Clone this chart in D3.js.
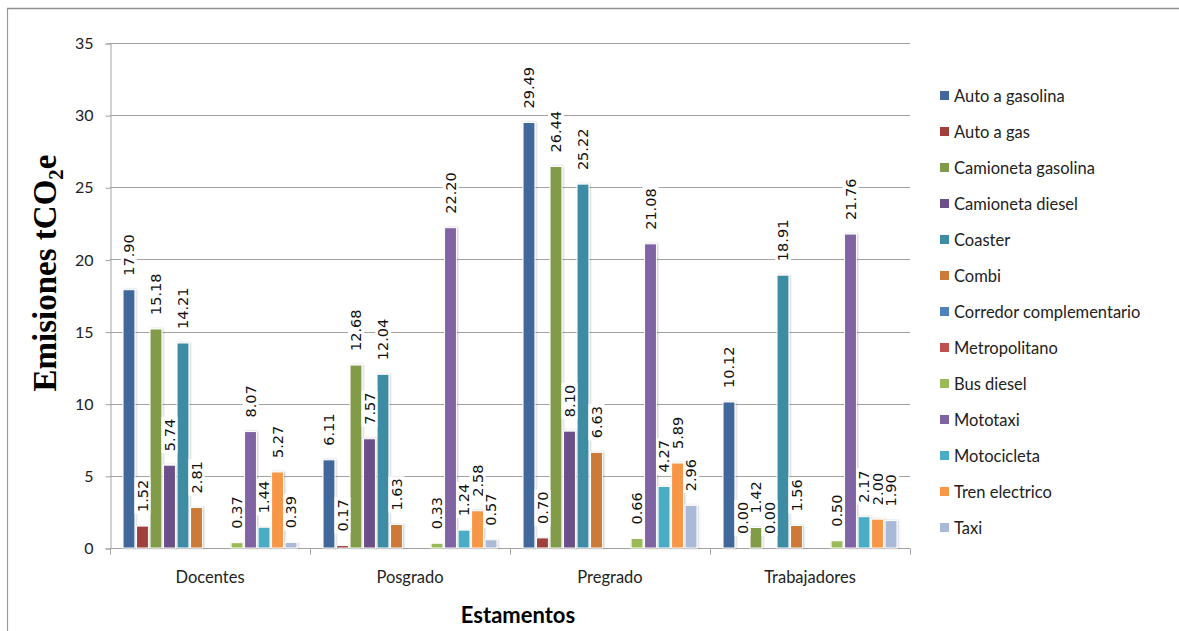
<!DOCTYPE html>
<html>
<head>
<meta charset="utf-8">
<script src="https://cdn.jsdelivr.net/npm/d3@7"></script>
<style>
  body { margin: 0; background: #fff; }
</style>
</head>
<body>
<svg id="chart" width="1179" height="631" font-family="Lato, 'Open Sans', sans-serif"></svg>
<script>
// Emissions by group (estamento) and transport mode, in tCO2e
const categories = ["Docentes", "Posgrado", "Pregrado", "Trabajadores"];

const seriesNames = [
  "Auto a gasolina", "Auto a gas", "Camioneta gasolina", "Camioneta diesel",
  "Coaster", "Combi", "Corredor complementario", "Metropolitano",
  "Bus diesel", "Mototaxi", "Motocicleta", "Tren electrico", "Taxi"
];

const seriesColors = [
  "#41689B", "#A03F3C", "#819B4A", "#6A4F88",
  "#3E8CA3", "#CC7A37", "#4F81BD", "#C0504D",
  "#9BBB59", "#8064A2", "#4BACC6", "#F79646", "#A9BAD9"
];

// one value per category; null = no data
const autoGasolina       = [17.90, 6.11, 29.49, 10.12];
const autoGas            = [1.52, 0.17, 0.70, 0.00];
const camionetaGasolina  = [15.18, 12.68, 26.44, 1.42];
const camionetaDiesel    = [5.74, 7.57, 8.10, 0.00];
const coaster            = [14.21, 12.04, 25.22, 18.91];
const combi              = [2.81, 1.63, 6.63, 1.56];
const corredor           = [null, null, null, null];
const metropolitano      = [null, null, null, null];
const busDiesel          = [0.37, 0.33, 0.66, 0.50];
const mototaxi           = [8.07, 22.20, 21.08, 21.76];
const motocicleta        = [1.44, 1.24, 4.27, 2.17];
const trenElectrico      = [5.27, 2.58, 5.89, 2.00];
const taxi               = [0.39, 0.57, 2.96, 1.90];

const seriesValues = [
  autoGasolina, autoGas, camionetaGasolina, camionetaDiesel, coaster, combi,
  corredor, metropolitano, busDiesel, mototaxi, motocicleta, trenElectrico, taxi
];

const yTicks = [0, 5, 10, 15, 20, 25, 30, 35];

const svg = d3.select("#chart");

// outer chart frame
svg.append("line").attr("x1", 7.5).attr("x2", 7.5).attr("y1", 8).attr("y2", 631)
  .attr("stroke", "#9a9a9a").attr("stroke-width", 1.2);
svg.append("line").attr("x1", 7).attr("x2", 1179).attr("y1", 8.5).attr("y2", 8.5)
  .attr("stroke", "#8f8f8f").attr("stroke-width", 1.5);

const plot = { left: 110, right: 910, top: 43, bottom: 548 };

const x0 = d3.scaleBand().domain(categories).range([plot.left, plot.right]).padding(0);
const x1 = d3.scaleBand().domain(seriesNames).range([0, x0.bandwidth()])
  .paddingInner(0.12).paddingOuter(0.965);
const y = d3.scaleLinear().domain([0, 35]).range([plot.bottom, plot.top]);
const color = d3.scaleOrdinal().domain(seriesNames).range(seriesColors);

// soft shadow on bars
const defs = svg.append("defs");
const f = defs.append("filter").attr("id", "barShadow")
  .attr("x", "-30%").attr("y", "-5%").attr("width", "160%").attr("height", "110%");
f.append("feDropShadow").attr("dx", 1).attr("dy", 0).attr("stdDeviation", 1)
  .attr("flood-color", "#000").attr("flood-opacity", 0.22);

// gridlines
svg.append("g")
  .selectAll("line").data(yTicks.filter(d => d > 0)).join("line")
  .attr("x1", plot.left).attr("x2", plot.right)
  .attr("y1", d => Math.round(y(d)) + 0.5).attr("y2", d => Math.round(y(d)) + 0.5)
  .attr("stroke", "#a3a3a3").attr("stroke-width", 1);

// y axis
const yAxis = svg.append("g")
  .attr("transform", `translate(${plot.left + 0.5},0.5)`)
  .call(d3.axisLeft(y).tickValues(yTicks).tickSize(5).tickPadding(12).tickFormat(d3.format("d")));
yAxis.attr("font-family", null);
yAxis.select(".domain").attr("stroke", "#a3a3a3");
yAxis.selectAll(".tick line").attr("stroke", "#a3a3a3");
yAxis.selectAll(".tick text")
  .attr("font-size", 16).attr("fill", "#222");

// x axis with tick marks at the category boundaries
const xAxisG = svg.append("g").attr("transform", `translate(0,${plot.bottom + 0.5})`);
xAxisG.append("line").attr("x1", plot.left).attr("x2", plot.right)
  .attr("stroke", "#a3a3a3");
const bounds = categories.map(c => x0(c)).concat([plot.right]);
xAxisG.selectAll(".bt").data(bounds).join("line").attr("class", "bt")
  .attr("x1", d => d + 0.5).attr("x2", d => d + 0.5).attr("y1", 0).attr("y2", 6)
  .attr("stroke", "#a3a3a3");
xAxisG.selectAll(".cl").data(categories).join("text").attr("class", "cl")
  .attr("x", d => x0(d) + x0.bandwidth() / 2).attr("y", 34)
  .attr("text-anchor", "middle").attr("font-size", 16.5).attr("fill", "#222")
  .text(d => d);

// bars
const flat = [];
seriesNames.forEach((s, si) => {
  categories.forEach((c, ci) => {
    const v = seriesValues[si][ci];
    if (v !== null) flat.push({ series: s, category: c, value: v });
  });
});

svg.append("g").selectAll("rect").data(flat).join("rect")
  .attr("x", d => x0(d.category) + x1(d.series))
  .attr("y", d => y(d.value))
  .attr("width", x1.bandwidth())
  .attr("height", d => y(0) - y(d.value))
  .attr("fill", d => color(d.series))
  .attr("stroke", "#fff").attr("stroke-width", 1)
  .attr("filter", "url(#barShadow)");

// value labels, rotated, on a white box
const labels = svg.append("g").selectAll("g").data(flat).join("g")
  .attr("transform", d =>
    `translate(${x0(d.category) + x1(d.series) + x1.bandwidth() / 2},${y(d.value) - 13}) rotate(-90)`);
labels.append("rect");
labels.append("text")
  .attr("x", 1).attr("dy", "0.36em")
  .attr("font-family", "'DejaVu Sans', sans-serif").attr("font-size", 14.5)
  .attr("fill", "#111")
  .text(d => d.value.toFixed(2));
labels.each(function () {
  const g = d3.select(this);
  const w = g.select("text").node().getComputedTextLength();
  g.select("rect").attr("x", -1).attr("y", -8).attr("width", w + 4).attr("height", 16)
    .attr("fill", "#fff");
});

// axis titles
const yTitle = svg.append("text")
  .attr("transform", "translate(56,273) rotate(-90)")
  .attr("text-anchor", "middle")
  .attr("font-family", "'Liberation Serif', 'Times New Roman', serif")
  .attr("font-weight", "bold").attr("font-size", 33).attr("fill", "#000");
yTitle.append("tspan").text("Emisiones  tCO");
yTitle.append("tspan").attr("font-size", 21).attr("dy", 7).text("2");
yTitle.append("tspan").attr("dy", -7).text("e");

svg.append("text")
  .attr("x", 518).attr("y", 623).attr("text-anchor", "middle")
  .attr("font-weight", "bold").attr("font-size", 22).attr("fill", "#000")
  .text("Estamentos");

// legend
const legend = svg.append("g").attr("transform", "translate(940,96)");
const items = legend.selectAll("g").data(seriesNames).join("g")
  .attr("transform", (d, i) => `translate(0,${i * 36})`);
items.append("rect").attr("x", 0).attr("y", -5).attr("width", 9).attr("height", 9)
  .attr("fill", d => color(d));
items.append("text").attr("x", 14).attr("dy", "0.36em")
  .attr("font-size", 16.5).attr("fill", "#222").text(d => d);
</script>
</body>
</html>
